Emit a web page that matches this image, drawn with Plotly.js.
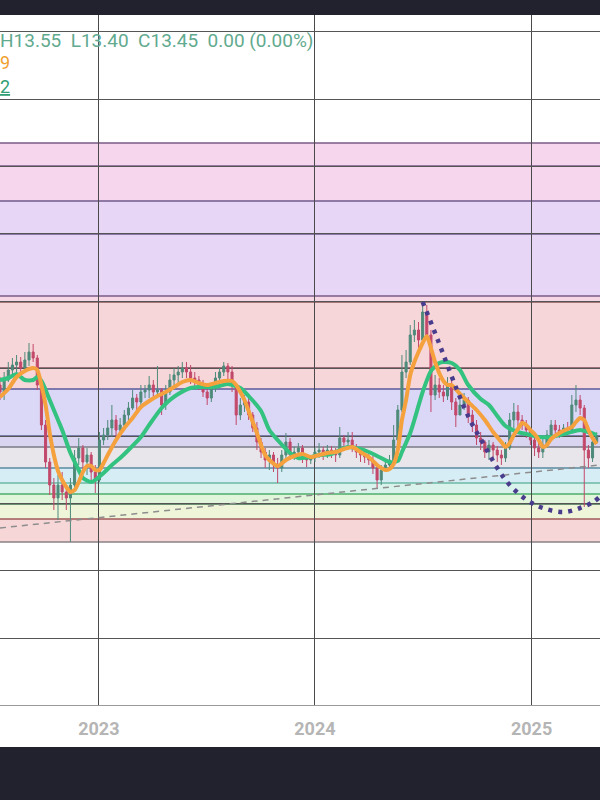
<!DOCTYPE html>
<html><head><meta charset="utf-8">
<script src="https://cdn.plot.ly/plotly-3.0.1.min.js"></script>
<style>
html,body{margin:0;padding:0;background:#21222d;width:600px;height:800px;overflow:hidden}
#chart{position:absolute;left:0;top:15px;width:600px;height:732px;background:#fff}
</style></head><body><div id="chart"></div>
<script>
// Weekly candles
const weekDates = [
'2022-07-18','2022-07-25','2022-08-01','2022-08-08','2022-08-15','2022-08-22','2022-08-29','2022-09-05','2022-09-12','2022-09-19',
'2022-09-26','2022-10-03','2022-10-10','2022-10-17','2022-10-24','2022-10-31','2022-11-07','2022-11-14','2022-11-21','2022-11-28',
'2022-12-05','2022-12-12','2022-12-19','2022-12-26','2023-01-02','2023-01-09','2023-01-16','2023-01-23','2023-01-30','2023-02-06',
'2023-02-13','2023-02-20','2023-02-27','2023-03-06','2023-03-13','2023-03-20','2023-03-27','2023-04-03','2023-04-10','2023-04-17',
'2023-04-24','2023-05-01','2023-05-08','2023-05-15','2023-05-22','2023-05-29','2023-06-05','2023-06-12','2023-06-19','2023-06-26',
'2023-07-03','2023-07-10','2023-07-17','2023-07-24','2023-07-31','2023-08-07','2023-08-14','2023-08-21','2023-08-28','2023-09-04',
'2023-09-11','2023-09-18','2023-09-25','2023-10-02','2023-10-09','2023-10-16','2023-10-23','2023-10-30','2023-11-06','2023-11-13',
'2023-11-20','2023-11-27','2023-12-04','2023-12-11','2023-12-18','2023-12-25','2024-01-01','2024-01-08','2024-01-15','2024-01-22',
'2024-01-29','2024-02-05','2024-02-12','2024-02-19','2024-02-26','2024-03-04','2024-03-11','2024-03-18','2024-03-25','2024-04-01',
'2024-04-08','2024-04-15','2024-04-22','2024-04-29','2024-05-06','2024-05-13','2024-05-20','2024-05-27','2024-06-03','2024-06-10',
'2024-06-17','2024-06-24','2024-07-01','2024-07-08','2024-07-15','2024-07-22','2024-07-29','2024-08-05','2024-08-12','2024-08-19',
'2024-08-26','2024-09-02','2024-09-09','2024-09-16','2024-09-23','2024-09-30','2024-10-07','2024-10-14','2024-10-21','2024-10-28',
'2024-11-04','2024-11-11','2024-11-18','2024-11-25','2024-12-02','2024-12-09','2024-12-16','2024-12-23','2024-12-30','2025-01-06',
'2025-01-13','2025-01-20','2025-01-27','2025-02-03','2025-02-10','2025-02-17','2025-02-24','2025-03-03','2025-03-10','2025-03-17',
'2025-03-24','2025-03-31','2025-04-07','2025-04-14','2025-04-21'];

const openP = [14.97,14.76,15.12,15.42,15.57,15.66,15.48,15.72,15.96,15.78,
14.97,13.77,12.66,11.97,11.58,11.97,11.76,11.58,11.97,12.78,
13.08,12.66,12.87,12.36,12.12,13.32,13.47,13.68,13.92,13.62,
13.77,14.07,14.28,14.58,14.46,14.76,14.82,14.97,14.76,14.82,
14.37,14.76,15.12,15.27,15.36,15.48,15.36,15.18,15.12,14.97,
14.76,14.58,14.88,15.18,15.36,15.54,15.36,14.97,14.07,14.37,
14.46,14.07,13.68,13.26,12.96,12.72,12.87,12.57,12.48,12.87,
13.26,12.87,12.96,13.08,12.78,12.72,12.78,12.96,13.02,12.87,
13.02,12.96,12.87,13.38,13.26,13.32,13.08,12.96,12.87,12.81,
12.72,12.48,12.12,12.42,12.57,12.72,13.32,14.22,15.36,15.66,
16.47,16.62,16.32,17.16,16.47,14.67,14.97,14.76,14.64,14.97,
14.46,14.07,14.37,14.52,14.07,13.77,13.38,13.26,12.96,13.17,
13.02,12.87,12.78,13.08,13.92,14.16,13.92,13.77,13.62,13.32,
13.08,12.96,13.17,13.47,13.77,13.62,13.50,13.68,13.62,14.37,
14.52,14.28,13.02,12.78,13.26];

const highP = [15.21,15.36,15.66,15.78,15.87,15.81,15.96,16.23,16.20,15.87,
15.03,13.92,12.78,12.18,12.27,12.36,11.97,12.18,13.02,13.38,
13.17,13.08,12.96,12.57,13.56,13.68,13.92,14.37,14.07,13.98,
14.22,14.46,14.82,14.70,14.97,14.97,15.24,15.12,15.54,14.88,
14.97,15.30,15.48,15.54,15.66,15.66,15.57,15.36,15.24,15.12,
14.88,15.00,15.36,15.48,15.66,15.63,15.54,15.03,14.58,14.67,
14.58,14.16,13.86,13.38,13.08,13.02,12.96,12.78,13.02,13.53,
13.38,13.11,13.23,13.17,12.87,12.87,13.08,13.23,13.11,13.17,
13.14,13.08,13.71,13.47,13.56,13.56,13.20,13.11,13.02,12.96,
12.84,12.57,12.57,12.72,12.87,13.77,14.37,15.87,16.02,16.77,
16.92,16.86,17.46,17.37,16.62,15.27,15.18,14.97,15.21,15.12,
14.58,14.58,14.73,14.61,14.22,13.92,13.56,13.32,13.32,13.26,
13.14,13.02,13.26,14.13,14.43,14.37,14.07,13.92,13.68,13.44,
13.26,13.38,13.62,13.92,13.92,13.77,13.80,13.86,14.67,14.97,
14.67,14.37,13.17,13.41,13.55];

const lowP = [14.52,14.52,15.06,15.27,15.36,15.30,15.36,15.54,15.66,14.82,
13.62,12.48,11.67,11.22,10.92,11.52,11.22,10.26,11.82,12.57,
12.36,12.27,12.12,11.73,12.06,13.17,13.32,13.41,13.32,13.47,
13.62,13.92,14.22,14.16,14.37,14.58,14.58,14.52,14.58,14.07,
14.22,14.67,14.88,15.03,15.18,15.18,15.00,14.94,14.82,14.61,
14.37,14.46,14.76,15.00,15.24,15.12,14.76,13.77,13.92,14.16,
13.92,13.56,13.02,12.78,12.48,12.42,12.36,12.03,12.36,12.78,
12.72,12.72,12.78,12.63,12.51,12.60,12.66,12.78,12.72,12.78,
12.78,12.66,12.78,13.08,13.14,12.96,12.78,12.66,12.63,12.57,
12.30,11.85,11.97,12.36,12.48,12.66,13.26,14.16,15.18,15.57,
16.26,16.02,16.17,16.32,14.16,14.52,14.58,14.46,14.52,14.22,
13.71,14.07,14.22,13.83,13.56,13.17,13.02,12.78,12.72,12.78,
12.66,12.57,12.66,13.02,13.68,13.68,13.62,13.38,13.17,12.84,
12.78,12.78,13.08,13.32,13.47,13.38,13.44,13.47,13.56,14.16,
14.07,11.31,12.48,12.66,13.20];

const closeP = [14.76,15.12,15.42,15.57,15.66,15.48,15.72,15.96,15.78,14.97,
13.77,12.66,11.97,11.58,11.97,11.76,11.58,11.97,12.78,13.08,
12.66,12.87,12.36,12.12,13.32,13.47,13.68,13.92,13.62,13.77,
14.07,14.28,14.58,14.46,14.76,14.82,14.97,14.76,14.82,14.37,
14.76,15.12,15.27,15.36,15.48,15.36,15.18,15.12,14.97,14.76,
14.58,14.88,15.18,15.36,15.54,15.36,14.97,14.07,14.37,14.46,
14.07,13.68,13.26,12.96,12.72,12.87,12.57,12.48,12.87,13.26,
12.87,12.96,13.08,12.78,12.72,12.78,12.96,13.02,12.87,13.02,
12.96,12.87,13.38,13.26,13.32,13.08,12.96,12.87,12.81,12.72,
12.48,12.12,12.42,12.57,12.72,13.32,14.22,15.36,15.66,16.47,
16.62,16.32,17.16,16.47,14.67,14.97,14.76,14.64,14.97,14.46,
14.07,14.37,14.52,14.07,13.77,13.38,13.26,12.96,13.17,13.02,
12.87,12.78,13.08,13.92,14.16,13.92,13.77,13.62,13.32,13.08,
12.96,13.17,13.47,13.77,13.62,13.50,13.68,13.62,14.37,14.52,
14.28,13.02,12.78,13.26,13.45];

// Fast moving average (orange)
const maFastDates = ['2022-07-18','2022-08-01','2022-08-15','2022-08-29','2022-09-12','2022-09-19','2022-09-26','2022-10-03','2022-10-10','2022-10-17',
'2022-10-24','2022-10-31','2022-11-07','2022-11-14','2022-11-21','2022-11-28','2022-12-05','2022-12-12','2022-12-19','2022-12-26',
'2023-01-02','2023-01-09','2023-01-16','2023-01-30','2023-02-13','2023-02-27','2023-03-13','2023-03-27','2023-04-10','2023-04-24',
'2023-05-08','2023-05-22','2023-06-05','2023-06-19','2023-07-03','2023-07-17','2023-07-31','2023-08-14','2023-08-21','2023-08-28',
'2023-09-04','2023-09-11','2023-09-18','2023-09-25','2023-10-02','2023-10-09','2023-10-16','2023-10-30','2023-11-13','2023-11-27',
'2023-12-11','2023-12-25','2024-01-08','2024-01-22','2024-02-05','2024-02-19','2024-03-04','2024-03-18','2024-04-01','2024-04-15',
'2024-04-29','2024-05-06','2024-05-13','2024-05-20','2024-05-27','2024-06-03','2024-06-10','2024-06-17','2024-06-24','2024-07-01',
'2024-07-08','2024-07-15','2024-07-22','2024-07-29','2024-08-05','2024-08-12','2024-08-19','2024-09-02','2024-09-16','2024-09-30',
'2024-10-14','2024-10-28','2024-11-11','2024-11-18','2024-11-25','2024-12-02','2024-12-09','2024-12-16','2024-12-23','2024-12-30',
'2025-01-06','2025-01-13','2025-01-20','2025-01-27','2025-02-03','2025-02-17','2025-03-03','2025-03-10','2025-03-17','2025-03-24',
'2025-03-31','2025-04-07','2025-04-14','2025-04-21'];
const maFast = [14.61,14.85,15.21,15.39,15.48,15.42,14.97,14.37,13.53,12.87,
12.39,12.12,11.91,11.76,11.82,12.06,12.36,12.54,12.54,12.42,
12.42,12.63,12.87,13.32,13.68,13.98,14.31,14.49,14.64,14.76,
14.91,15.06,15.12,15.03,14.97,15.03,15.09,15.09,14.97,14.76,
14.52,14.19,13.86,13.53,13.17,12.87,12.72,12.54,12.72,12.84,
12.90,12.81,12.87,12.93,12.96,13.05,13.11,12.96,12.81,12.57,
12.42,12.45,12.60,13.02,13.92,14.52,15.27,15.66,15.96,16.23,
16.44,16.08,15.66,15.33,15.09,14.97,14.97,14.70,14.46,14.22,
13.92,13.56,13.26,13.11,13.23,13.47,13.65,13.83,13.77,13.62,
13.50,13.32,13.11,13.17,13.35,13.53,13.65,13.71,13.86,13.98,
13.92,13.62,13.38,13.20];

// Slow moving average (green)
const maSlowDates = ['2022-07-18','2022-08-01','2022-08-15','2022-08-22','2022-08-29','2022-09-12','2022-09-19','2022-09-26','2022-10-10','2022-10-24',
'2022-10-31','2022-11-14','2022-11-28','2022-12-05','2022-12-19','2022-12-26','2023-01-09','2023-01-23','2023-02-06','2023-02-20',
'2023-03-13','2023-03-27','2023-04-17','2023-05-01','2023-05-15','2023-06-05','2023-06-19','2023-07-10','2023-07-24','2023-08-07',
'2023-08-28','2023-09-11','2023-10-02','2023-10-16','2023-10-30','2023-11-20','2023-12-04','2023-12-25','2024-01-08','2024-01-29',
'2024-02-12','2024-02-26','2024-03-18','2024-04-01','2024-04-22','2024-05-06','2024-05-20','2024-05-27','2024-06-10','2024-06-17',
'2024-07-01','2024-07-15','2024-07-29','2024-08-05','2024-08-19','2024-09-02','2024-09-16','2024-10-07','2024-10-21','2024-11-04',
'2024-11-18','2024-12-09','2024-12-30','2025-01-13','2025-02-03','2025-02-17','2025-03-03','2025-03-24','2025-04-07','2025-04-21'];
const maSlow = [15.12,15.18,15.30,15.21,15.12,15.12,15.21,15.09,14.52,13.92,
13.62,12.93,12.42,12.18,12.06,12.12,12.33,12.57,12.78,13.02,
13.41,13.77,14.28,14.52,14.70,14.88,14.91,14.91,14.94,15.00,
14.88,14.64,14.19,13.62,13.32,12.93,12.78,12.81,12.87,12.90,
13.02,13.11,13.05,12.96,12.78,12.66,12.69,12.96,13.53,13.92,
14.76,15.39,15.63,15.66,15.63,15.42,14.97,14.55,14.37,14.04,
13.74,13.56,13.47,13.41,13.41,13.47,13.53,13.62,13.56,13.47];

// Drawings
const trendDates = ['2022-07-18','2025-04-26'];
const trendVals = [10.68, 12.57];
const arcDates = ['2024-07-01','2024-07-18','2024-08-04','2024-08-28','2024-09-19','2024-10-11','2024-11-03','2024-11-25','2024-12-24','2025-01-20','2025-02-23','2025-03-24','2025-04-15','2025-04-26'];
const arcVals = [17.46,16.71,15.93,14.82,13.92,13.23,12.51,11.97,11.52,11.28,11.16,11.28,11.46,11.61];

// Fibonacci levels (top to bottom) and band fills between them
const fibLevels = [22.23,21.54,20.49,19.50,17.64,17.46,15.48,14.85,13.44,13.11,12.48,12.03,11.70,11.40,10.95,10.26];
const fibLineColors = ['#7a5a86','#7a5a86','#6e5a8a','#6e5a8a','#7a5a86','#8a5a5a','#7a4a5a','#5a5a9a','#5a6090','#7a7a86','#5a8aa0','#6ab8a4','#4cae6a','#3f6e50','#a05a5a','#8a8088'];
const fibFills = ['#f6d6ec','#f6d6ec','#e8d6f6','#e8d6f6','#f6d6e4','#f6d6d8','#f6d6d8','#dbd7f6','#d9d5f1','#e8e6eb','#d7edf6','#d9f3ec','#e1f5db','#eef5d9','#f6d6d6'];

const legendText = 'H13.55\u00a0\u00a0L13.40\u00a0\u00a0C13.45\u00a0\u00a00.00\u00a0(0.00%)';

const shapes = [];
for (let i = 0; i < fibFills.length; i++) {
  shapes.push({type:'rect', xref:'paper', x0:0, x1:1, yref:'y', y0:fibLevels[i+1], y1:fibLevels[i],
    fillcolor:fibFills[i], line:{width:0}, layer:'below'});
}
for (let i = 0; i < fibLevels.length; i++) {
  shapes.push({type:'line', xref:'paper', x0:0, x1:1, yref:'y', y0:fibLevels[i], y1:fibLevels[i],
    line:{color:fibLineColors[i], width:1.5}, layer:'between'});
}

const font = 'Roboto, Inter, "Noto Sans", sans-serif';
const traces = [
  {type:'candlestick', x:weekDates, open:openP, high:highP, low:lowP, close:closeP,
   increasing:{line:{color:'#4e8a7a', width:1}, fillcolor:'#4e8a7a'},
   decreasing:{line:{color:'#c2486a', width:1}, fillcolor:'#c2486a'},
   whiskerwidth:0, hoverinfo:'skip', showlegend:false},
  {type:'scatter', mode:'lines', x:trendDates, y:trendVals,
   line:{color:'#8d8d8d', width:1.5, dash:'6px,5px'}, hoverinfo:'skip'},
  {type:'scatter', mode:'lines', x:maSlowDates, y:maSlow,
   line:{color:'#33c27f', width:4, shape:'spline', smoothing:0.7}, hoverinfo:'skip'},
  {type:'scatter', mode:'lines', x:maFastDates, y:maFast,
   line:{color:'#f4a13e', width:4, shape:'spline', smoothing:0.6}, hoverinfo:'skip'},
  {type:'scatter', mode:'lines', x:arcDates, y:arcVals,
   line:{color:'#4a3c8c', width:4.5, dash:'4px,6px', shape:'spline'}, hoverinfo:'skip'}
];

const layout = {
  width:600, height:732,
  margin:{l:0, r:0, t:0, b:42, pad:0},
  paper_bgcolor:'#ffffff', plot_bgcolor:'#ffffff',
  showlegend:false, boxgap:0.3,
  font:{family:font},
  xaxis:{type:'date', range:['2022-07-18','2025-04-26 14:00'], rangeslider:{visible:false},
    showgrid:true, gridcolor:'#4a4a4a', gridwidth:1, dtick:'M12', tick0:'2023-01-01', tickformat:'%Y',
    ticks:'', ticklabelstandoff:7, tickfont:{family:font, size:18, color:'#b5b5b5', weight:'bold'},
    showline:true, linecolor:'#9a9a9a', linewidth:1, zeroline:false, fixedrange:true},
  yaxis:{range:[5.37, 26.07], showgrid:true, gridcolor:'#555555', gridwidth:1, tick0:13.44, dtick:2.022,
    showticklabels:false, ticks:'', zeroline:false, fixedrange:true},
  shapes:shapes,
  annotations:[
    {xref:'paper', yref:'paper', x:-2/600, y:1-25/690, xanchor:'left', yanchor:'middle', showarrow:false,
     text:legendText, font:{family:font, size:19, color:'#62aa8f'}},
    {xref:'paper', yref:'paper', x:-2/600, y:1-47/690, xanchor:'left', yanchor:'middle', showarrow:false,
     text:'9', font:{family:font, size:18, color:'#f0a030'}},
    {xref:'paper', yref:'paper', x:-2/600, y:1-71/690, xanchor:'left', yanchor:'middle', showarrow:false,
     text:'<span style="text-decoration:underline">2</span>', font:{family:font, size:18, color:'#2f9e72'}}
  ]
};

Plotly.newPlot('chart', traces, layout, {displayModeBar:false, staticPlot:true});
</script></body></html>
